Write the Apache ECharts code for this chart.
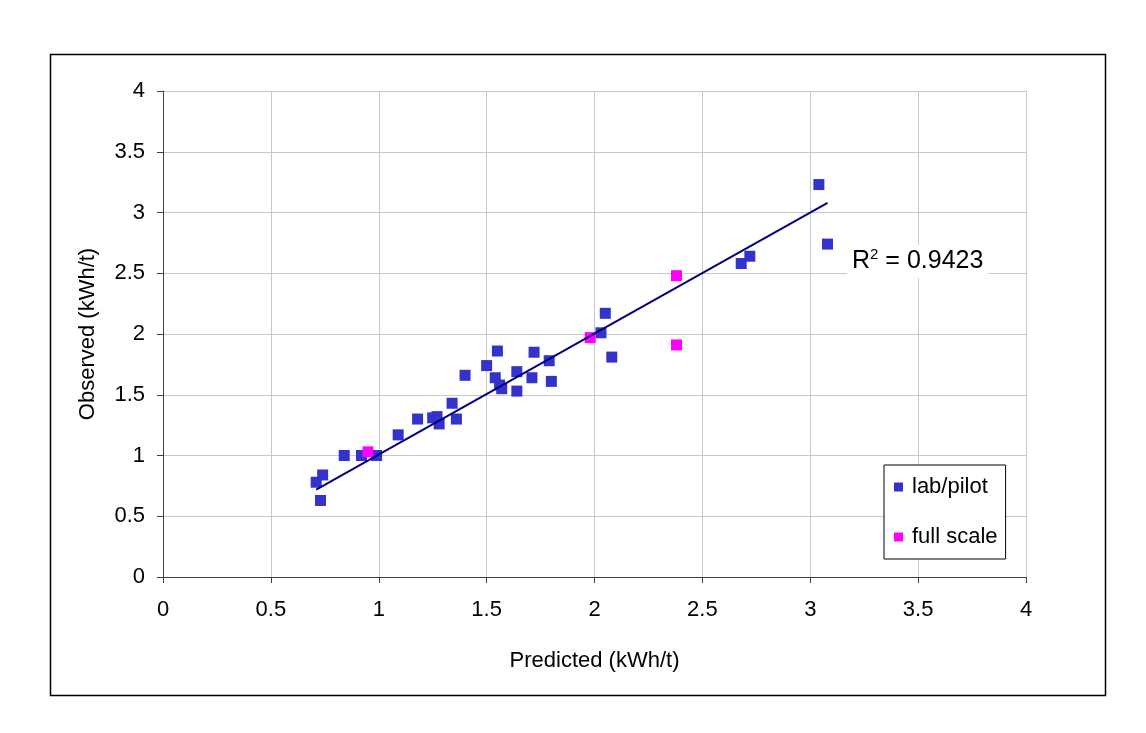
<!DOCTYPE html>
<html>
<head>
<meta charset="utf-8">
<script src="https://cdn.jsdelivr.net/npm/echarts@6/dist/echarts.min.js"></script>
<style>
    html, body { margin: 0; padding: 0; background: #fff; }
    #chart { width: 1146px; height: 733px; }
</style>
</head>
<body>
<div id="chart"></div>
<script>
    // lab/pilot points (predicted, observed)
    let labX = [0.71, 0.74, 0.73, 0.84, 0.92, 0.99, 1.09, 1.18, 1.25, 1.27, 1.28, 1.34, 1.36, 1.40,
                1.50, 1.55, 1.54, 1.56, 1.57, 1.64, 1.64, 1.71, 1.72, 1.79, 1.80, 2.03, 2.08, 2.05,
                2.68, 2.72, 3.04, 3.08];
    let labY = [0.78, 0.84, 0.63, 1.00, 1.00, 1.00, 1.17, 1.30, 1.31, 1.32, 1.26, 1.43, 1.30, 1.66,
                1.74, 1.86, 1.64, 1.58, 1.55, 1.69, 1.53, 1.64, 1.85, 1.78, 1.61, 2.01, 1.81, 2.17,
                2.58, 2.64, 3.23, 2.74];
    // full scale points
    let fullX = [0.95, 1.98, 2.38, 2.38];
    let fullY = [1.03, 1.97, 2.48, 1.91];
    // linear trendline end points
    let trendX = [0.71, 3.08];
    let trendY = [0.72, 3.08];
    let tickValues = [0, 0.5, 1, 1.5, 2, 2.5, 3, 3.5, 4];

    let font = 'Liberation Sans, Arial, sans-serif';
    let zip = (xs, ys) => xs.map((x, i) => [x, ys[i]]);

    let myChart = echarts.init(document.getElementById('chart'));

    let axisCommon = {
        type: 'value',
        min: tickValues[0],
        max: tickValues[tickValues.length - 1],
        interval: 0.5,
        axisLine: { show: true, lineStyle: { color: '#404040', width: 1 } },
        axisTick: { show: true, length: 6, lineStyle: { color: '#404040' } },
        splitLine: { show: true, lineStyle: { color: '#c8c8c8', width: 1 } },
        nameLocation: 'middle',
        nameTextStyle: { fontFamily: font, fontSize: 22, color: '#000' }
    };

    let option = {
        backgroundColor: '#fff',
        animation: false,
        grid: { left: 163, right: 120, top: 91, bottom: 156, containLabel: false },
        xAxis: Object.assign({}, axisCommon, {
            name: 'Predicted (kWh/t)',
            nameGap: 73,
            axisLabel: { margin: 22, fontFamily: font, fontSize: 22, color: '#000' }
        }),
        yAxis: Object.assign({}, axisCommon, {
            name: 'Observed (kWh/t)',
            nameGap: 64,
            axisLabel: { margin: 18, fontFamily: font, fontSize: 22, color: '#000' }
        }),
        legend: {
            orient: 'vertical',
            left: 884,
            top: 465,
            padding: [11, 8, 11, 10],
            itemGap: 28,
            itemWidth: 9,
            itemHeight: 9,
            borderColor: '#000',
            borderWidth: 1,
            backgroundColor: '#fff',
            textStyle: { fontFamily: font, fontSize: 22, color: '#000', padding: [0, 0, 0, 4] },
            data: [
                { name: 'lab/pilot', icon: 'rect' },
                { name: 'full scale', icon: 'rect' }
            ]
        },
        graphic: [
            {
                type: 'rect',
                left: 48, top: 52,
                shape: { width: 1055, height: 641 },
                style: { fill: 'none', stroke: '#000', lineWidth: 1.5 },
                z: -10
            },
            {
                type: 'text',
                left: 847, top: 245,
                z: 100,
                style: {
                    text: '{a|R}{s|2}{a| = 0.9423}',
                    backgroundColor: '#fff',
                    padding: [2, 5, 4, 5],
                    rich: {
                        a: { fontFamily: font, fontSize: 25, color: '#000', verticalAlign: 'bottom', lineHeight: 27 },
                        s: { fontFamily: font, fontSize: 15, color: '#000', verticalAlign: 'top', lineHeight: 27 }
                    }
                }
            }
        ],
        series: [
            {
                name: 'trend',
                type: 'line',
                data: zip(trendX, trendY),
                symbol: 'none',
                lineStyle: { color: '#000080', width: 2 },
                z: 3
            },
            {
                name: 'lab/pilot',
                type: 'scatter',
                data: zip(labX, labY),
                symbol: 'rect',
                symbolSize: 11,
                itemStyle: { color: '#3333cc', opacity: 1 },
                z: 2
            },
            {
                name: 'full scale',
                type: 'scatter',
                data: zip(fullX, fullY),
                symbol: 'rect',
                symbolSize: 11,
                itemStyle: { color: '#ff00ff', opacity: 1 },
                z: 2
            }
        ]
    };

    myChart.setOption(option);
</script>
</body>
</html>
